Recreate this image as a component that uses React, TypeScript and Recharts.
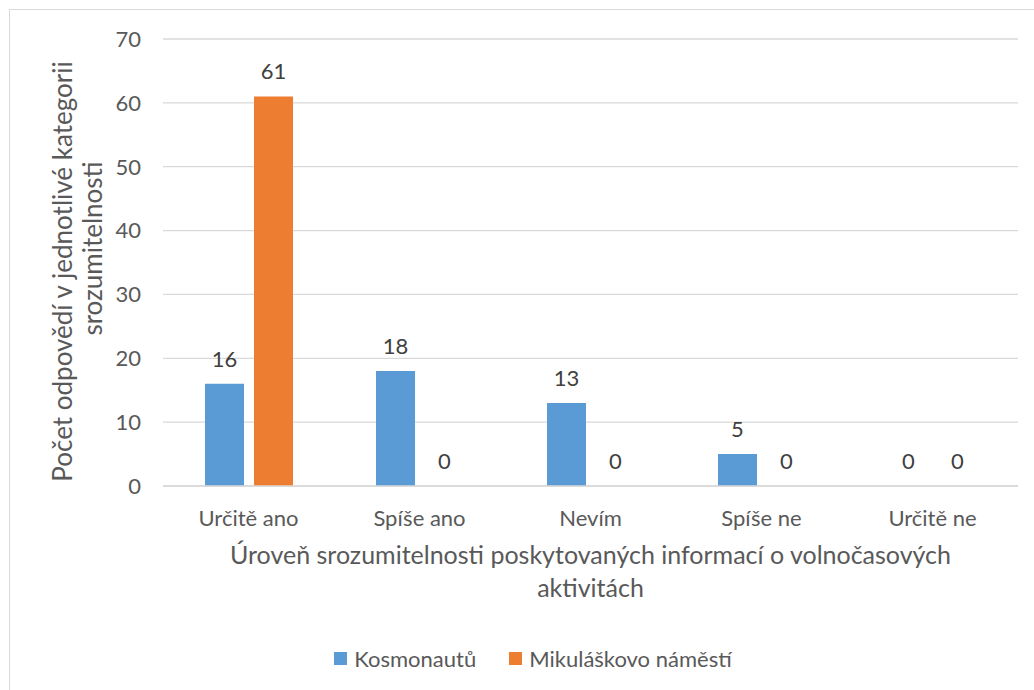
import React from 'react';
import { BarChart, Bar, XAxis, YAxis, CartesianGrid, LabelList, Legend } from 'recharts';

const categories = ['Určitě ano', 'Spíše ano', 'Nevím', 'Spíše ne', 'Určitě ne'];
const kosmonautu = [16, 18, 13, 5, 0];
const mikulaskovo = [61, 0, 0, 0, 0];
const yTicks = [0, 10, 20, 30, 40, 50, 60, 70];

const seriesNames = ['Kosmonautů', 'Mikuláškovo náměstí'];
const seriesColors = ['#5B9BD5', '#ED7D31'];

const data = categories.map((name, i) => ({
  name,
  kosmonautu: kosmonautu[i],
  mikulaskovo: mikulaskovo[i],
}));

const FONT = 'Lato, "Open Sans", sans-serif';

const YTitle = (props: any) => {
  const { viewBox } = props;
  const cy = viewBox.y + viewBox.height / 2;
  return (
    <g>
      <text x={72} y={cy + 9} transform={`rotate(-90, 72, ${cy + 9})`} textAnchor="middle" fill="#595959" fontSize={26} fontFamily={FONT}>
        Počet odpovědí v jednotlivé kategorii
      </text>
      <text x={102} y={cy - 14} transform={`rotate(-90, 102, ${cy - 14})`} textAnchor="middle" fill="#595959" fontSize={26} fontFamily={FONT}>
        srozumitelnosti
      </text>
    </g>
  );
};

const XTitle = (props: any) => {
  const { viewBox } = props;
  const cx = viewBox.x + viewBox.width / 2;
  return (
    <g>
      <text x={cx} y={564} textAnchor="middle" fill="#595959" fontSize={25} fontFamily={FONT}>
        Úroveň srozumitelnosti poskytovaných informací o volnočasových
      </text>
      <text x={cx} y={597} textAnchor="middle" fill="#595959" fontSize={25} fontFamily={FONT}>
        aktivitách
      </text>
    </g>
  );
};

const renderLegend = () => (
  <div style={{ display: 'flex', justifyContent: 'center', gap: 33, fontFamily: FONT, fontSize: 22, color: '#595959' }}>
    {seriesNames.map((n, i) => (
      <span key={n} style={{ display: 'flex', alignItems: 'center' }}>
        <span style={{ display: 'inline-block', width: 13, height: 13, background: seriesColors[i], marginRight: 7 }} />
        {n}
      </span>
    ))}
  </div>
);

export default function App() {
  return (
    <div style={{ position: 'absolute', left: 0, top: 0, width: 1034, height: 690, overflow: 'hidden', background: '#fff' }}>
      <div style={{ position: 'absolute', left: 9, top: 9, width: 1100, height: 720, border: '1px solid #d9d9d9' }} />
      <div style={{ position: 'absolute', left: 0, top: 0 }}>
        <BarChart
          width={1034}
          height={690}
          data={data}
          margin={{ top: 39, right: 16, bottom: 174, left: 103 }}
          barCategoryGap={42}
          barGap={10}
        >
          <CartesianGrid vertical={false} stroke="#d9d9d9" strokeWidth={1.3} />
          <XAxis
            dataKey="name"
            axisLine={{ stroke: '#d9d9d9', strokeWidth: 1.3 }}
            tickLine={false}
            tickMargin={18}
            height={30}
            tick={{ fill: '#595959', fontSize: 22, fontFamily: FONT }}
            label={<XTitle />}
          />
          <YAxis
            width={60}
            domain={[0, 70]}
            ticks={yTicks}
            axisLine={false}
            tickLine={false}
            tickMargin={16}
            tick={{ fill: '#595959', fontSize: 22, fontFamily: FONT }}
            label={<YTitle />}
          />
          <Bar dataKey="kosmonautu" name={seriesNames[0]} fill={seriesColors[0]} minPointSize={0.01} isAnimationActive={false}>
            <LabelList dataKey="kosmonautu" position="top" offset={17} fill="#404040" fontSize={22} fontFamily={FONT} />
          </Bar>
          <Bar dataKey="mikulaskovo" name={seriesNames[1]} fill={seriesColors[1]} minPointSize={0.01} isAnimationActive={false}>
            <LabelList dataKey="mikulaskovo" position="top" offset={17} fill="#404040" fontSize={22} fontFamily={FONT} />
          </Bar>
          <Legend
            layout="horizontal"
            verticalAlign="middle"
            align="center"
            content={renderLegend}
            wrapperStyle={{ top: 645, left: 0, width: 1066 }}
          />
        </BarChart>
      </div>
    </div>
  );
}
